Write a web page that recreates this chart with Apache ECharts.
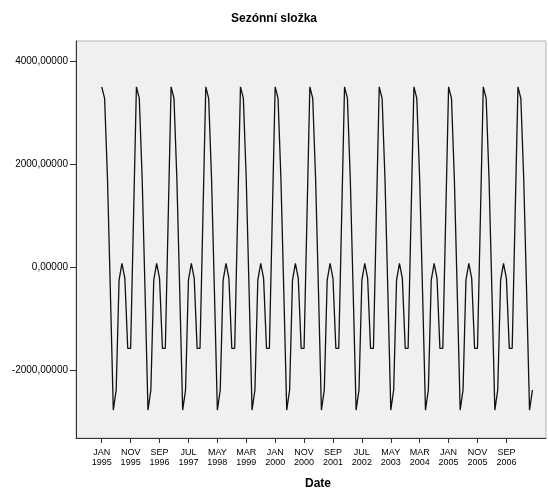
<!DOCTYPE html>
<html>
<head>
<meta charset="utf-8">
<script src="https://cdn.jsdelivr.net/npm/echarts@6/dist/echarts.min.js"></script>
<style>
  html, body { margin: 0; padding: 0; background: #fff; }
  #chart { width: 548px; height: 488px; }
</style>
</head>
<body>
<div id="chart"></div>
<script>
// seasonal factors, Jan..Dec
var seasonalFactors = [3500, 3276, 1700, -500, -2777, -2388, -252, 72, -220, -1579, -1579, 960]
var monthNames = ['JAN', 'FEB', 'MAR', 'APR', 'MAY', 'JUN', 'JUL', 'AUG', 'SEP', 'OCT', 'NOV', 'DEC']
var startYear = 1995
var monthCount = 150 // Jan 1995 .. Jun 2007
var xTickValues = [0, 10, 20, 30, 40, 50, 60, 70, 80, 90, 100, 110, 120, 130, 140]
var yTickValues = [-2000, 0, 2000, 4000]

var seriesData = []
for (var i = 0; i < monthCount; i++) {
  seriesData.push([i, seasonalFactors[i % 12]])
}

var chart = echarts.init(document.getElementById('chart'))
chart.setOption({
  animation: false,
  title: {
    text: 'Sezónní složka',
    left: 'center',
    top: 8,
    textStyle: { fontFamily: 'Liberation Sans', fontSize: 12, fontWeight: 'bold', color: '#000' }
  },
  grid: {
    left: 76,
    right: 2,
    top: 41,
    bottom: 50,
    outerBoundsMode: 'none',
    containLabel: false,
    show: true,
    backgroundColor: '#f0f0f0',
    borderColor: '#b4b4b4',
    borderWidth: 1
  },
  xAxis: {
    type: 'value',
    min: -8.9,
    max: 153.7,
    name: 'Date',
    nameLocation: 'middle',
    nameGap: 40,
    nameTextStyle: { fontFamily: 'Liberation Sans', fontSize: 12, fontWeight: 'bold', color: '#000', padding: [0, 0, 0, 14] },
    splitLine: { show: false },
    axisLine: { onZero: false, lineStyle: { color: '#333', width: 1 } },
    axisTick: { customValues: xTickValues, length: 5, lineStyle: { color: '#333' } },
    axisLabel: {
      customValues: xTickValues,
      margin: 10,
      fontFamily: 'Liberation Sans',
      fontSize: 9,
      lineHeight: 10,
      color: '#000',
      formatter: function (v) {
        return monthNames[v % 12] + '\n' + (startYear + Math.floor(v / 12))
      }
    }
  },
  yAxis: {
    type: 'value',
    min: -3320,
    max: 4390,
    splitLine: { show: false },
    axisLine: { show: true, onZero: false, lineStyle: { color: '#333', width: 1 } },
    axisTick: { show: true, customValues: yTickValues, length: 6, lineStyle: { color: '#333' } },
    axisLabel: {
      customValues: yTickValues,
      margin: 8,
      fontFamily: 'Liberation Sans',
      fontSize: 10,
      color: '#000',
      formatter: function (v) {
        return v.toFixed(5).replace('.', ',')
      }
    }
  },
  series: [{
    type: 'line',
    data: seriesData,
    showSymbol: false,
    lineStyle: { color: '#111', width: 1.3 }
  }]
})
</script>
</body>
</html>
